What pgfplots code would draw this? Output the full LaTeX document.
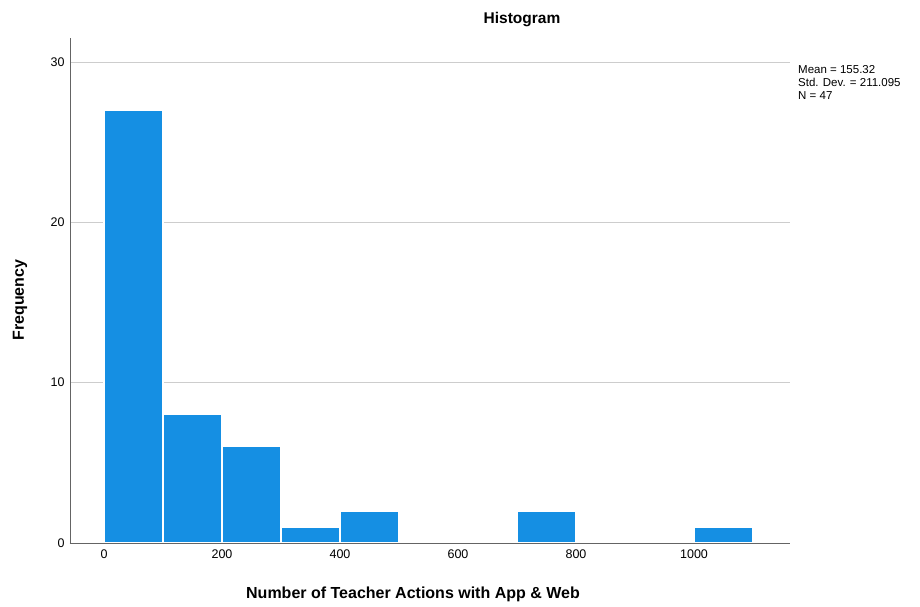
\documentclass[border=0pt]{standalone}
\usepackage{pgfplots}
\pgfplotsset{compat=1.18}
\usepackage{fontspec}
\setmainfont{Liberation Sans}
\definecolor{barblue}{RGB}{21,143,227}
\definecolor{axisgray}{RGB}{100,100,100}
\definecolor{gridgray}{RGB}{205,205,205}
\begin{document}
\begin{tikzpicture}
\begin{axis}[
    scale only axis,
    width=720pt, height=505pt,
    xmin=-57.6, xmax=1162.7,
    ymin=0, ymax=31.5,
    axis lines*=left,
    axis line style={axisgray, line width=0.8pt},
    xtick={0,200,...,1000},
    ytick={0,10,20,30},
    major tick length=0pt,
    ymajorgrids,
    grid style={gridgray, line width=0.8pt},
    tick label style={font=\fontsize{12.5}{14}\selectfont},
    /pgf/number format/assume math mode=true,
    /pgf/number format/1000 sep={},
    xticklabel style={yshift=-3pt},
    yticklabel style={xshift=-2pt},
    clip=false,
]
\addplot[ybar, bar shift=0pt, bar width=100, fill=barblue, draw=white, line width=1.2pt]
coordinates {(50,27) (150,8) (250,6) (350,1) (450,2) (750,2) (1050,1)};
\draw[axisgray, line width=0.8pt] (rel axis cs:0,0) -- (rel axis cs:1,0);
\coordinate (sw) at (rel axis cs:0,0);
\coordinate (ne) at (rel axis cs:1,1);
\end{axis}
\node[font=\fontsize{15.5}{18}\selectfont\bfseries] at ([shift={(452pt,18pt)}]sw |- ne) {Histogram};
\node[font=\fontsize{16}{19}\selectfont\bfseries] at ([shift={(343pt,-51pt)}]sw) {Number of Teacher Actions with App \& Web};
\node[font=\fontsize{16}{19}\selectfont\bfseries, rotate=90] at ([shift={(-50pt,243pt)}]sw) {Frequency};
\node[font=\fontsize{11.5}{13}\selectfont, anchor=north west, align=left, inner sep=0pt] at ([shift={(8pt,-27pt)}]ne) {Mean = 155.32\\Std. Dev. = 211.095\\N = 47};
\pgfresetboundingbox
\path ([shift={(-70pt,-64pt)}]sw) rectangle ([shift={(130pt,38pt)}]ne);
\end{tikzpicture}
\end{document}
